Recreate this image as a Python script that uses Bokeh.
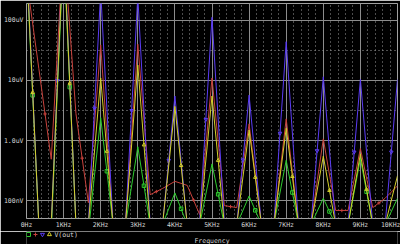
from bokeh.plotting import figure
from bokeh.layouts import column
from bokeh.models import FixedTicker, CustomJSTickFormatter, Range1d
from bokeh.core.properties import value
from bokeh.embed import file_html
from bokeh.resources import INLINE

# FFT bins (Hz)
freq_hz = [0, 333, 667, 1000, 1333, 1667, 2000, 2333, 2667, 3000, 3333,
           3667, 4000, 4333, 4667, 5000, 5333, 5667, 6000, 6333, 6667,
           7000, 7333, 7667, 8000, 8333, 8667, 9000, 9333, 9667, 10000]

# V(out) magnitude for the four parametric runs (volts)
v_green = [8e-4, 4e-8, 3e-8, 1.5e-3, 4e-8, 3e-8, 2.4e-6, 4e-8, 4e-8, 7.9e-7, 4e-8,
           4e-8, 1.35e-7, 4e-8, 4e-8, 4.1e-7, 4e-8, 4e-8, 1.2e-7, 4e-8, 4e-8,
           4.7e-7, 4e-8, 4e-8, 1.1e-7, 4e-8, 4e-8, 5e-7, 4e-8, 4e-8, 1.1e-7]
v_red = [4.9e-4, 1.57e-5, 4.9e-7, 2e-3, 2.8e-6, 9.3e-8, 3.9e-5, 4e-8, 4e-8, 4e-5, 1.26e-7,
         1.6e-7, 2.1e-7, 1.8e-7, 5.9e-8, 1.1e-5, 8.3e-8, 7.7e-8, 1.9e-6, 4e-8, 4e-8,
         2.3e-6, 4e-8, 4e-8, 1.07e-6, 6.9e-8, 6.9e-8, 7.4e-7, 7.7e-8, 1.1e-7, 1.77e-7]
v_blue = [1.2e-3, 4e-8, 4e-8, 2.5e-3, 4e-8, 4e-8, 3e-4, 4e-8, 4e-8, 2.5e-4, 4e-8,
          4e-8, 5.5e-6, 4e-8, 4.5e-8, 1.12e-4, 4.5e-8, 4e-8, 5.7e-6, 4e-8, 4e-8,
          4.4e-5, 4e-8, 4e-8, 1.15e-5, 4e-8, 4e-8, 1.04e-5, 4e-8, 4e-8, 1.04e-5]
v_yellow = [1e-3, 4e-8, 4e-8, 2e-3, 4e-8, 4e-8, 1.1e-5, 4e-8, 4e-8, 1.8e-5, 4e-8,
            4e-8, 3.7e-6, 4e-8, 4e-8, 5.5e-6, 4e-8, 4e-8, 1.5e-6, 4e-8, 4e-8,
            1.6e-6, 4e-8, 4e-8, 5.5e-7, 4e-8, 4e-8, 6e-7, 4e-8, 4e-8, 2.6e-7]

x_ticks = [0, 1000, 2000, 3000, 4000, 5000, 6000, 7000, 8000, 9000, 10000]
x_labels = ["0Hz", "1KHz", "2KHz", "3KHz", "4KHz", "5KHz", "6KHz", "7KHz",
            "8KHz", "9KHz", "10KHz"]
y_ticks = [1e-7, 1e-6, 1e-5, 1e-4]
y_labels = ["100nV", "1.0uV", "10uV", "100uV"]
y_half = [3.162e-8, 3.162e-7, 3.162e-6, 3.162e-5, 3.162e-4]
trace_name = "V(out)"
x_title = "Frequency"

x_minor = [f for f in range(0, 10001, 200) if f % 1000 != 0]

TXT = "#d4d4d4"
FONT = "DejaVu Sans Mono"
FS = "6.5px"

series = [
    (v_green, "#2ecc2e", "square", 0),
    (v_red, "#c8423c", "cross", 1),
    (v_blue, "#5b3cf5", "inverted_triangle", 2),
    (v_yellow, "#d4d02a", "triangle", 0),
]

p = figure(width=400, height=231, x_range=Range1d(0, 10000),
           y_range=Range1d(5.07e-8, 1.9e-4), y_axis_type="log",
           output_backend="svg", toolbar_location=None,
           background_fill_color="black", border_fill_color="black",
           min_border_left=25, min_border_right=3, min_border_top=3,
           min_border_bottom=10)
p.outline_line_color = "#a0a0a0"

p.xaxis.ticker = FixedTicker(ticks=x_ticks, minor_ticks=x_minor)
p.xgrid.ticker = FixedTicker(ticks=x_ticks, minor_ticks=x_minor)
p.yaxis.ticker = FixedTicker(ticks=y_ticks, minor_ticks=y_half)
p.ygrid.ticker = FixedTicker(ticks=y_ticks, minor_ticks=y_half)

p.xaxis.formatter = CustomJSTickFormatter(args=dict(tks=x_ticks, lbls=x_labels), code="""
for (let i = 0; i < tks.length; i++) { if (Math.abs(tks[i] - tick) < 1) return lbls[i]; }
return '';
""")
p.yaxis.formatter = CustomJSTickFormatter(args=dict(tks=y_ticks, lbls=y_labels), code="""
for (let i = 0; i < tks.length; i++) { if (Math.abs(Math.log10(tks[i]) - Math.log10(tick)) < 0.01) return lbls[i]; }
return '';
""")

for g in (p.xgrid, p.ygrid):
    g.grid_line_color = "#8c8c8c"
    g.grid_line_width = 1
    g.minor_grid_line_color = "#9a9a9a"
    g.minor_grid_line_dash = "1 3"
    g.minor_grid_line_width = 1

for ax in (p.xaxis, p.yaxis):
    ax.axis_line_color = None
    ax.major_tick_line_color = None
    ax.minor_tick_line_color = None
    ax.major_tick_out = 0
    ax.major_tick_in = 0
    ax.minor_tick_out = 0
    ax.minor_tick_in = 0
    ax.major_label_text_color = TXT
    ax.major_label_text_font = FONT
    ax.major_label_text_font_size = FS
p.xaxis.major_label_standoff = 2
p.yaxis.major_label_standoff = 3

for vals, color, marker, off in series:
    p.line(freq_hz, vals, line_color=color, line_width=1)
    mx, my = [], []
    for i in range(off, len(freq_hz) - 1, 3):
        mx.append((freq_hz[i] + freq_hz[i + 1]) / 2)
        my.append((vals[i] * vals[i + 1]) ** 0.5)
    p.scatter(mx, my, marker=marker, size=3.5, line_color=color,
              fill_color=None, line_width=1)

# strip below the plot: trace legend and x-axis title
leg_markers = ["square", "cross", "inverted_triangle", "triangle"]
leg_colors = ["#2ecc2e", "#c8423c", "#5b3cf5", "#d4d02a"]
leg_x = [27, 34, 41, 48]

q = figure(width=400, height=13, x_range=Range1d(25, 397), y_range=Range1d(13, 0),
           output_backend="svg", toolbar_location=None,
           x_axis_location=None, y_axis_location=None,
           background_fill_color="black", border_fill_color="black",
           min_border_left=25, min_border_right=3, min_border_top=0,
           min_border_bottom=0)
q.outline_line_color = None
q.xgrid.visible = False
q.ygrid.visible = False
q.scatter(leg_x, [3] * 4, marker=leg_markers, size=4, line_color=leg_colors,
          fill_color=None, line_width=1)
q.text(x=[53], y=[3], text=[trace_name], text_color=TXT,
       text_font=value(FONT), text_font_size=value(FS),
       text_align="left", text_baseline="middle")
q.text(x=[211], y=[9.3], text=[x_title], text_color=TXT,
       text_font=value(FONT), text_font_size=value(FS),
       text_align="center", text_baseline="middle")

layout = column(p, q, spacing=0)
open("out.html", "w").write(file_html(layout, INLINE))
